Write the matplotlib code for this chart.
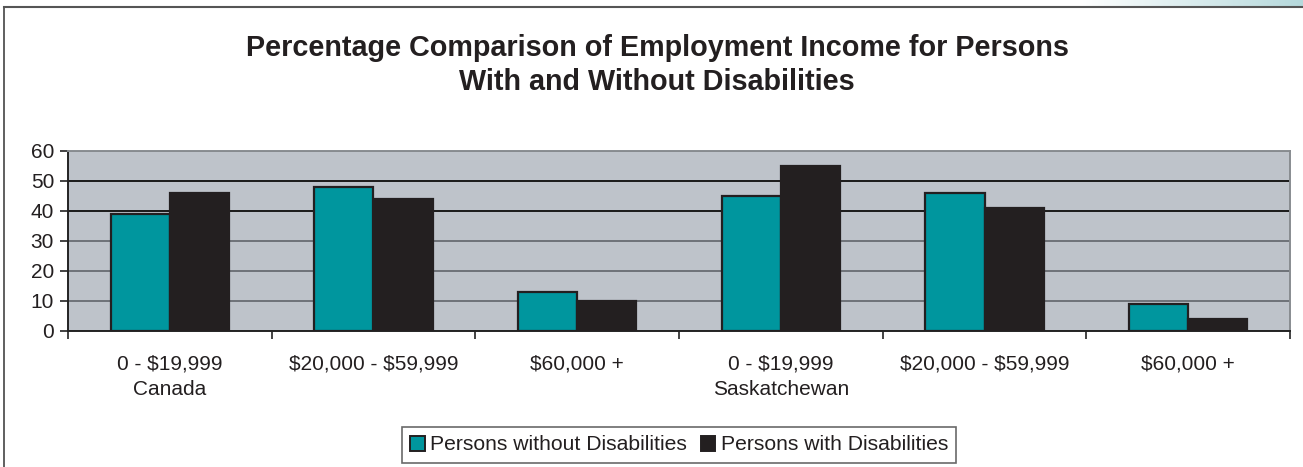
import matplotlib
matplotlib.use("Agg")
import matplotlib.pyplot as plt
import numpy as np
from matplotlib.patches import Patch
from matplotlib.lines import Line2D
from matplotlib.colors import LinearSegmentedColormap

plt.rcParams['font.family'] = ['Liberation Sans', 'DejaVu Sans']
plt.rcParams['text.parse_math'] = False

categories = ["0 - $19,999\nCanada", "$20,000 - $59,999", "$60,000 +",
              "0 - $19,999\nSaskatchewan", "$20,000 - $59,999", "$60,000 +"]
without_dis = [39, 48, 13, 45, 46, 9]
with_dis = [46, 44, 10, 55, 41, 4]
series_names = ["Persons without Disabilities", "Persons with Disabilities"]
yticks = [0, 10, 20, 30, 40, 50, 60]

teal = "#00969E"
dark = "#231F20"
bg = "#BEC3CA"

fig = plt.figure(figsize=(13.03, 4.67), dpi=100)

# frame lines of chart area
fig.add_artist(Line2D([4/1303, 4/1303], [0, 1 - 7/467], color="#444444", lw=1.2))
fig.add_artist(Line2D([4/1303, 1], [1 - 7/467, 1 - 7/467], color="#555555", lw=1.5))
# light gradient strip top right
gax = fig.add_axes([1080/1303, 1 - 6/467, 223/1303, 6/467])
grad = np.linspace(0, 1, 256).reshape(1, -1)
cm = LinearSegmentedColormap.from_list("g", ["#ffffff", "#b5d9dc"])
gax.imshow(grad, aspect="auto", cmap=cm)
gax.axis("off")

ax = fig.add_axes([68/1303, 1 - 331/467, (1290 - 68)/1303, (331 - 151)/467])
ax.set_facecolor(bg)

x = np.arange(len(categories)) + 0.5
w = 0.29
ax.bar(x - w/2, without_dis, w, color=teal, edgecolor=dark, linewidth=1.6,
       label=series_names[0], zorder=3)
ax.bar(x + w/2, with_dis, w, color=dark, edgecolor=dark, linewidth=1.6,
       label=series_names[1], zorder=3)

ax.set_xlim(0, len(categories))
ax.set_ylim(0, 60)
ax.set_yticks(yticks)
ax.set_yticklabels([str(v) for v in yticks], fontsize=15, color="#231F20")
ax.set_xticks(x)
ax.set_xticklabels(categories, fontsize=15, linespacing=1.45, va="top", color="#231F20")
ax.set_xticks(np.arange(len(categories) + 1), minor=True)
ax.tick_params(axis="x", which="major", length=0, pad=17)
ax.tick_params(axis="x", which="minor", length=6, width=1.2, color="#222222", direction="out")
ax.tick_params(axis="y", length=6, width=1.2, color="#222222", pad=4)

ax.grid(axis="y", zorder=0)
for v, gl in zip(yticks, ax.yaxis.get_gridlines()):
    if v in (40, 50):
        gl.set_color("#1a1a1a")
    else:
        gl.set_color("#6e7278")
    gl.set_linewidth(1.4)
ax.set_axisbelow(True)

for s in ("top", "right"):
    ax.spines[s].set_color("#888c90")
    ax.spines[s].set_linewidth(1.4)
for s in ("left", "bottom"):
    ax.spines[s].set_color("#222222")
    ax.spines[s].set_linewidth(1.4)

fig.text(657/1303, 1 - 65/467,
         "Percentage Comparison of Employment Income for Persons\nWith and Without Disabilities",
         ha="center", va="center", fontsize=20.7, fontweight="bold", color="#231F20",
         linespacing=1.3)

handles = [Patch(facecolor=teal, edgecolor=dark, linewidth=1.4),
           Patch(facecolor=dark, edgecolor=dark, linewidth=1.4)]
leg = fig.legend(handles, series_names, loc="center", bbox_to_anchor=(679/1303, 1 - 445/467),
                 ncol=2, fontsize=15.2, frameon=True, fancybox=False, shadow=False,
                 handlelength=0.7, handleheight=0.7, handletextpad=0.25, columnspacing=0.65,
                 borderpad=0.4, borderaxespad=0, labelcolor="#231F20")
leg.get_frame().set_edgecolor("#444444")
leg.get_frame().set_linewidth(1.2)

fig.savefig("out.png", dpi=100)
